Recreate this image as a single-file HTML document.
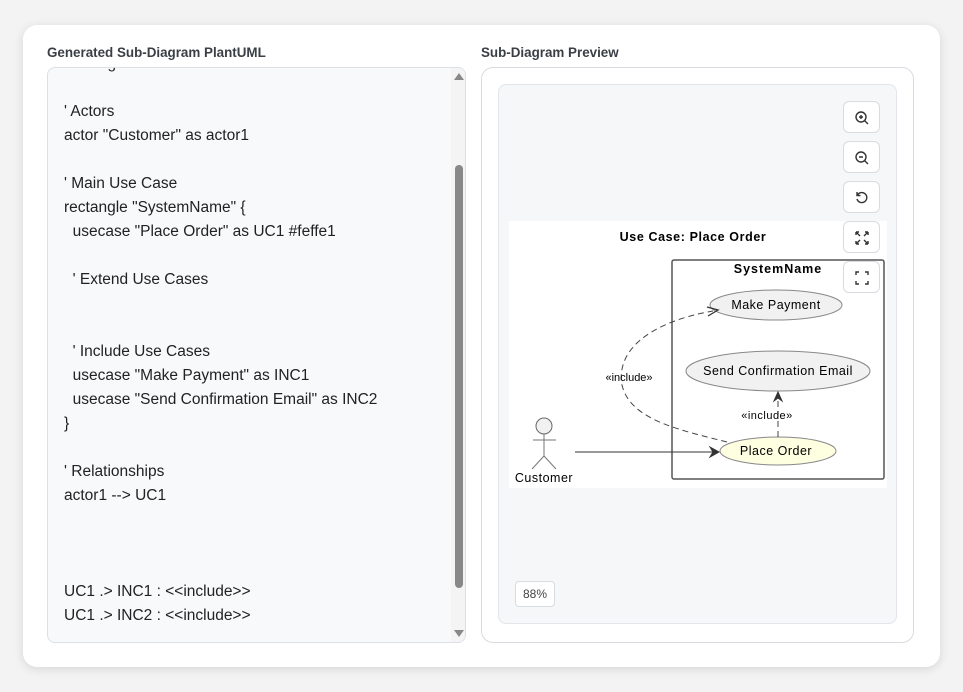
<!DOCTYPE html>
<html><head><meta charset="utf-8"><style>
body{margin:0;width:963px;height:692px;background:#f3f3f4;font-family:"Liberation Sans",sans-serif;position:relative;overflow:hidden}
.card{position:absolute;left:23px;top:25px;width:917px;height:642px;background:#fff;border-radius:14px;box-shadow:0 2px 10px rgba(0,0,0,.12)}
.lbl{position:absolute;top:45px;font-size:13.4px;font-weight:bold;color:#3a3f45}
.ta{position:absolute;left:47px;top:67px;width:417px;height:574px;background:#f8f9fa;border:1px solid #dcdfe3;border-radius:8px;overflow:hidden}
.code{position:absolute;left:16px;top:-16px;font-size:15.5px;line-height:24px;color:#222;white-space:pre}
.track{position:absolute;right:0;top:0;width:14px;height:100%;background:#f4f4f4}
.thumb{position:absolute;left:4px;top:97px;width:8px;height:423px;background:#888;border-radius:4px}
.pv{position:absolute;left:481px;top:67px;width:431px;height:574px;border:1px solid #d8dbe0;border-radius:12px;background:#fff}
.in{position:absolute;left:498px;top:84px;width:397px;height:538px;border:1px solid #e2e5e9;border-radius:8px;background:#f6f7f9}
.btn{position:absolute;left:843px;width:35px;height:30px;background:#fff;border:1px solid #d8dbe0;border-radius:6px}
.btn svg{position:absolute;left:9px;top:7px}
.pct{position:absolute;left:515px;top:581px;width:38px;height:24px;background:#fff;border:1px solid #d8dbe0;border-radius:4px;font-size:12px;color:#444;text-align:center;line-height:24px}
</style></head><body>
<div class="card"></div>
<div class="lbl" style="left:47px">Generated Sub-Diagram PlantUML</div>
<div class="lbl" style="left:481px">Sub-Diagram Preview</div>
<div class="ta"><div class="code">  ' Usage

' Actors
actor "Customer" as actor1

' Main Use Case
rectangle "SystemName" {
  usecase "Place Order" as UC1 #feffe1

  ' Extend Use Cases


  ' Include Use Cases
  usecase "Make Payment" as INC1
  usecase "Send Confirmation Email" as INC2
}

' Relationships
actor1 --&gt; UC1



UC1 .&gt; INC1 : &lt;&lt;include&gt;&gt;
UC1 .&gt; INC2 : &lt;&lt;include&gt;&gt;</div>
<div class="track"><div class="thumb"></div>
<div style="position:absolute;left:3px;top:5px;border:5px solid transparent;border-bottom:7px solid #888;border-top:0"></div>
<div style="position:absolute;left:3px;bottom:5px;border:5px solid transparent;border-top:7px solid #888;border-bottom:0"></div></div></div>
<div class="pv"></div>
<div class="in"></div>
<svg style="position:absolute;left:0;top:0" width="963" height="692">
<rect x="509" y="221" width="378" height="267" fill="#fff"/>
<text x="693" y="241" font-size="12.5" font-weight="bold" text-anchor="middle" font-family="Liberation Sans" letter-spacing="0.6">Use Case: Place Order</text>
<rect x="672" y="260" width="212" height="219" fill="none" stroke="#555" stroke-width="1.5" rx="2"/>
<text x="778" y="273" font-size="12.5" font-weight="bold" text-anchor="middle" font-family="Liberation Sans" letter-spacing="1">SystemName</text>
<ellipse cx="776" cy="305" rx="66" ry="15" fill="#f1f1f1" stroke="#888"/>
<text x="776" y="309" font-size="12.5" text-anchor="middle" font-family="Liberation Sans" letter-spacing="0.5">Make Payment</text>
<ellipse cx="778" cy="371" rx="92" ry="20" fill="#f1f1f1" stroke="#888"/>
<text x="778" y="375" font-size="12.5" text-anchor="middle" font-family="Liberation Sans" letter-spacing="0.5">Send Confirmation Email</text>
<ellipse cx="778" cy="451" rx="58" ry="14" fill="#fefee1" stroke="#888"/>
<text x="776" y="455" font-size="12.5" text-anchor="middle" font-family="Liberation Sans" letter-spacing="0.5">Place Order</text>
<circle cx="544" cy="426" r="8" fill="#f1f1f1" stroke="#666"/>
<path d="M544 434V456M533 440H556M544 456L532 469M544 456L556 469" stroke="#777" fill="none"/>
<text x="544" y="482" font-size="12.5" text-anchor="middle" font-family="Liberation Sans" letter-spacing="0.5">Customer</text>
<path d="M575 452H716" stroke="#333"/>
<path d="M710 447L719 452L710 457L713 452Z" fill="#333" stroke="#333"/>
<path d="M727 442C680 430 630 420 622 385C615 345 660 320 713 311" stroke="#444" fill="none" stroke-dasharray="6,4"/>
<path d="M707 307L718 310L708 316" stroke="#333" fill="none" stroke-width="1.3"/>
<text x="629" y="381" font-size="11" text-anchor="middle" font-family="Liberation Sans">«include»</text>
<path d="M778 437V395" stroke="#444" stroke-dasharray="6,4"/>
<path d="M774 401L778 392L782 401L778 398Z" fill="#333" stroke="#333"/>
<text x="767" y="419" font-size="11" text-anchor="middle" font-family="Liberation Sans" letter-spacing="0.5">«include»</text>
</svg>
<div class="btn" style="top:101px"><svg width="18" height="18" viewBox="0 0 18 18" fill="none" stroke="#333" stroke-width="1.4"><circle cx="8" cy="8" r="5"/><path d="M11.5 11.5L15 15M6 8H10M8 6V10"/></svg></div>
<div class="btn" style="top:141px"><svg width="18" height="18" viewBox="0 0 18 18" fill="none" stroke="#333" stroke-width="1.4"><circle cx="8" cy="8" r="5"/><path d="M11.5 11.5L15 15M6 8H10"/></svg></div>
<div class="btn" style="top:181px"><svg width="18" height="18" viewBox="0 0 18 18" fill="none" stroke="#333" stroke-width="1.4"><path d="M4.5 6A5 5 0 1 1 4 10M4 3V6.5H7.5"/></svg></div>
<div class="btn" style="top:221px"><svg width="18" height="18" viewBox="0 0 18 18" fill="none" stroke="#333" stroke-width="1.4"><path d="M3 3L7 7M3 3H6M3 3V6M15 3L11 7M15 3H12M15 3V6M3 15L7 11M3 15H6M3 15V12M15 15L11 11M15 15H12M15 15V12"/></svg></div>
<div class="btn" style="top:261px"><svg width="18" height="18" viewBox="0 0 18 18" fill="none" stroke="#333" stroke-width="1.4"><path d="M3 6V3H6M12 3H15V6M15 12V15H12M6 15H3V12"/></svg></div>
<div class="pct">88%</div>
</body></html>
